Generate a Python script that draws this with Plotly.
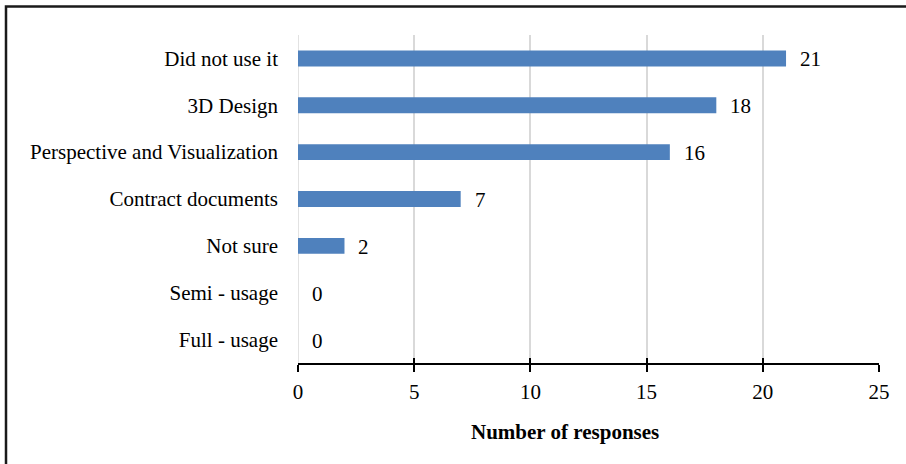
import plotly.graph_objects as go

categories = [
    "Did not use it",
    "3D Design",
    "Perspective and Visualization",
    "Contract documents",
    "Not sure",
    "Semi - usage",
    "Full - usage",
]
responses = [21, 18, 16, 7, 2, 0, 0]
x_ticks = [0, 5, 10, 15, 20, 25]

FONT = "Liberation Serif"
FS = 21
W, H = 906, 464
L, R, T, B = 298, 27, 34.5, 100.5
pw, ph = W - L - R, H - T - B

fig = go.Figure()
fig.add_trace(go.Bar(
    y=categories,
    x=responses,
    orientation="h",
    marker=dict(color="#4F81BD", line=dict(width=0)),
    hoverinfo="x+y",
))

# value labels to the right of each bar
for cat, val in zip(categories, responses):
    fig.add_annotation(
        x=val, y=cat, text=str(val), showarrow=False,
        xanchor="left", xshift=12, yshift=-1,
        font=dict(family=FONT, size=FS, color="#000000"),
    )

# axis title
fig.add_annotation(
    xref="paper", yref="paper",
    x=(565 - L) / pw, y=(T + ph - 433) / ph,
    text="<b>Number of responses</b>", showarrow=False,
    xanchor="center", yanchor="middle",
    font=dict(family=FONT, size=FS, color="#000000"),
)

# gridline at zero (plotly skips it at the range edge)
fig.add_shape(
    type="line", xref="x", yref="paper",
    x0=0, x1=0, y0=0, y1=1,
    line=dict(color="#D9D9D9", width=1.5), layer="below",
)

# outer chart frame
fig.add_shape(
    type="rect", xref="paper", yref="paper",
    x0=(6 - L) / pw, x1=(912 - L) / pw,
    y0=(T + ph - 470) / ph, y1=(T + ph - 6) / ph,
    line=dict(color="#1a1a1a", width=2.5),
    fillcolor="rgba(0,0,0,0)", layer="above",
)

fig.update_layout(
    width=W, height=H,
    margin=dict(l=L, r=R, t=T, b=B, pad=0),
    paper_bgcolor="#ffffff",
    plot_bgcolor="#ffffff",
    bargap=0.66,
    showlegend=False,
    font=dict(family=FONT, size=FS, color="#000000"),
    xaxis=dict(
        range=[0, 25],
        tickvals=x_ticks,
        ticktext=[str(v) for v in x_ticks],
        showgrid=True, gridcolor="#D9D9D9", gridwidth=1.5,
        zeroline=False,
        showline=True, linecolor="#000000", linewidth=2,
        ticks="outside", ticklen=7, tickwidth=2, tickcolor="#000000",
        ticklabelstandoff=2,
        tickfont=dict(family=FONT, size=FS, color="#000000"),
        fixedrange=True,
    ),
    xaxis2=dict(
        range=[0, 25], overlaying="x", matches="x",
        tickvals=x_ticks, showticklabels=False,
        showgrid=False, zeroline=False, showline=False,
        ticks="inside", ticklen=5, tickwidth=2, tickcolor="#000000",
        side="bottom",
    ),
    yaxis=dict(
        categoryorder="array", categoryarray=categories[::-1],
        showgrid=False, zeroline=False, showline=False,
        ticks="", ticklabelstandoff=19,
        tickfont=dict(family=FONT, size=FS, color="#000000"),
        fixedrange=True,
    ),
)

# invisible trace so the inside-tick axis is drawn
fig.add_trace(go.Scatter(x=[0], y=[categories[0]], xaxis="x2", mode="markers",
                         marker=dict(opacity=0), hoverinfo="skip", showlegend=False))

fig.write_html("out.html")
